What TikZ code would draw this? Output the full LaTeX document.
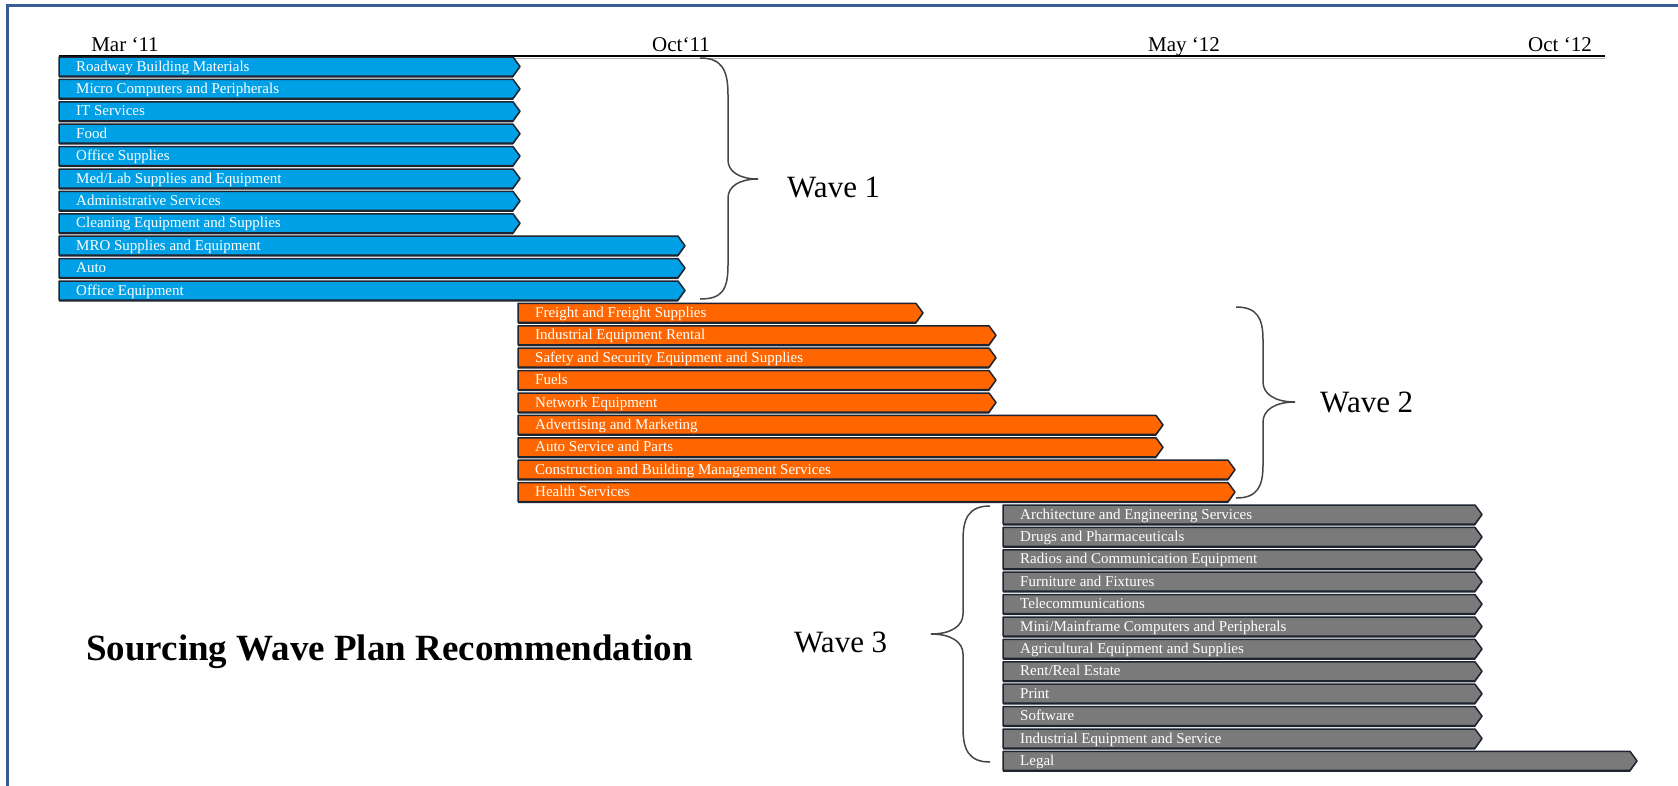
\documentclass[tikz,border=0pt]{standalone}
\usepackage{fontspec}
\setmainfont{Liberation Serif}
\begin{document}
\definecolor{frameblue}{RGB}{58,92,150}
\definecolor{waveone}{RGB}{0,160,230}
\definecolor{wavetwo}{RGB}{255,102,0}
\definecolor{wavethree}{RGB}{122,122,122}
\definecolor{baredge}{RGB}{30,36,48}
\definecolor{bracegray}{RGB}{70,70,70}
% one bar of the plan: name, row, left x, tip x, fill colour, label
\newcommand\wbar[6]{%
  \pgfmathsetmacro\yc{66.5+22.4*#2}
  \fill[baredge] (#3,\yc-9.5) -- (#4-7,\yc-9.5) -- (#4,\yc+0.8) -- (#4-7,\yc+11) -- (#3,\yc+11) -- cycle;
  \draw[barshape,fill=#5] (#3,\yc-9.5) -- (#4-7,\yc-9.5) -- (#4,\yc) -- (#4-7,\yc+9.5) -- (#3,\yc+9.5) -- cycle;
  \node[bartext] (#1) at (#3+17,\yc+4.5) {#6};
}
\begin{tikzpicture}[x=1pt,y=-1pt,
  barshape/.style={draw=baredge,line width=1.5pt,line join=round},
  bartext/.style={anchor=base west,inner sep=0pt,text=white,font=\fontsize{15}{18}\selectfont},
  datelabel/.style={anchor=base,inner sep=0pt,font=\fontsize{21}{24}\selectfont},
  wavelabel/.style={anchor=west,inner sep=0pt,font=\fontsize{31}{36}\selectfont},
  bracepath/.style={draw=bracegray,line width=1.5pt}]
\useasboundingbox (0,0) rectangle (1678,785);
\fill[white] (0,0) rectangle (1678,785);
% frame
\draw[frameblue,line width=3pt] (7,790) -- (7,5) -- (1680,5);
% time axis
\draw[gray!60,line width=1.5pt] (59,58.5) -- (1605,58.5);
\draw[black,line width=2.6pt] (59,56) -- (1605,56);
\node[datelabel] (mar11) at (125,51) {Mar ‘11};
\node[datelabel] (oct11) at (681,51) {Oct‘11};
\node[datelabel] (may12) at (1184,51) {May ‘12};
\node[datelabel] (oct12) at (1560,51) {Oct ‘12};
% wave 1
\wbar{b1}{0}{59}{520}{waveone}{Roadway Building Materials}
\wbar{b2}{1}{59}{520}{waveone}{Micro Computers and Peripherals}
\wbar{b3}{2}{59}{520}{waveone}{IT Services}
\wbar{b4}{3}{59}{520}{waveone}{Food}
\wbar{b5}{4}{59}{520}{waveone}{Office Supplies}
\wbar{b6}{5}{59}{520}{waveone}{Med/Lab Supplies and Equipment}
\wbar{b7}{6}{59}{520}{waveone}{Administrative Services}
\wbar{b8}{7}{59}{520}{waveone}{Cleaning Equipment and Supplies}
\wbar{b9}{8}{59}{685}{waveone}{MRO Supplies and Equipment}
\wbar{b10}{9}{59}{685}{waveone}{Auto}
\wbar{b11}{10}{59}{685}{waveone}{Office Equipment}
% wave 2
\wbar{o1}{11}{518}{923}{wavetwo}{Freight and Freight Supplies}
\wbar{o2}{12}{518}{996}{wavetwo}{Industrial Equipment Rental}
\wbar{o3}{13}{518}{996}{wavetwo}{Safety and Security Equipment and Supplies}
\wbar{o4}{14}{518}{996}{wavetwo}{Fuels}
\wbar{o5}{15}{518}{996}{wavetwo}{Network Equipment}
\wbar{o6}{16}{518}{1163}{wavetwo}{Advertising and Marketing}
\wbar{o7}{17}{518}{1163}{wavetwo}{Auto Service and Parts}
\wbar{o8}{18}{518}{1235}{wavetwo}{Construction and Building Management Services}
\wbar{o9}{19}{518}{1235}{wavetwo}{Health Services}
% wave 3
\wbar{g1}{20}{1003}{1482}{wavethree}{Architecture and Engineering Services}
\wbar{g2}{21}{1003}{1482}{wavethree}{Drugs and Pharmaceuticals}
\wbar{g3}{22}{1003}{1482}{wavethree}{Radios and Communication Equipment}
\wbar{g4}{23}{1003}{1482}{wavethree}{Furniture and Fixtures}
\wbar{g5}{24}{1003}{1482}{wavethree}{Telecommunications}
\wbar{g6}{25}{1003}{1482}{wavethree}{Mini/Mainframe Computers and Peripherals}
\wbar{g7}{26}{1003}{1482}{wavethree}{Agricultural Equipment and Supplies}
\wbar{g8}{27}{1003}{1482}{wavethree}{Rent/Real Estate}
\wbar{g9}{28}{1003}{1482}{wavethree}{Print}
\wbar{g10}{29}{1003}{1482}{wavethree}{Software}
\wbar{g11}{30}{1003}{1482}{wavethree}{Industrial Equipment and Service}
\wbar{g12}{31}{1003}{1637}{wavethree}{Legal}
% braces grouping the waves
\draw[bracepath] (700,58) .. controls (722,58) and (728,70) .. (728,95) -- (728,160)
  .. controls (728,172) and (740,179) .. (758,179)
  .. controls (740,179) and (728,186) .. (728,198) -- (728,265)
  .. controls (728,290) and (722,299) .. (700,299);
\draw[bracepath] (1236,307) .. controls (1257,307) and (1263,318) .. (1263,340) -- (1263,382)
  .. controls (1263,394) and (1275,402) .. (1295,402)
  .. controls (1275,402) and (1263,410) .. (1263,422) -- (1263,465)
  .. controls (1263,487) and (1257,498) .. (1236,498);
\draw[bracepath] (990,506) .. controls (969,506) and (963,518) .. (963,540) -- (963,614)
  .. controls (963,626) and (951,634) .. (931,634)
  .. controls (951,634) and (963,642) .. (963,654) -- (963,728)
  .. controls (963,750) and (969,762) .. (990,762);
\node[wavelabel] (w1) at (787,187) {Wave 1};
\node[wavelabel] (w2) at (1320,402) {Wave 2};
\node[wavelabel] (w3) at (794,642) {Wave 3};
% title
\node[anchor=west,inner sep=0pt,font=\fontsize{37}{42}\selectfont\bfseries] (title) at (86,652) {Sourcing Wave Plan Recommendation};
\end{tikzpicture}
\end{document}
